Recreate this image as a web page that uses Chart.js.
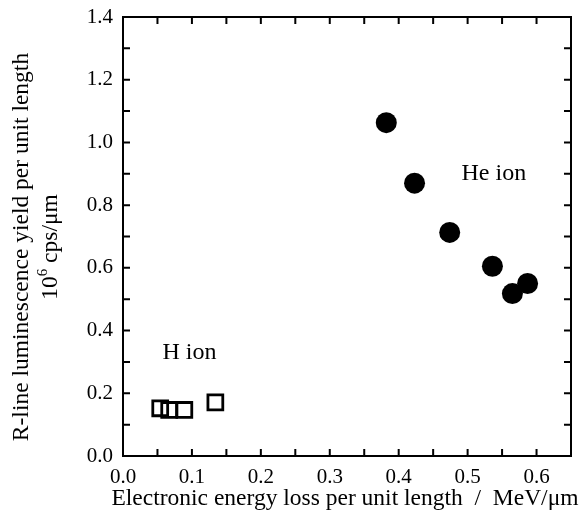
<!DOCTYPE html>
<html>
<head>
<meta charset="utf-8">
<script src="https://cdn.jsdelivr.net/npm/chart.js@4"></script>
<style>
  html, body { margin: 0; padding: 0; background: #fff; }
  #wrap { width: 579px; height: 518px; }
</style>
</head>
<body>
<div id="wrap"><canvas id="c" width="579" height="518"></canvas></div>
<script>
// He ion: filled circles
const heX = [0.382, 0.423, 0.474, 0.536, 0.565, 0.587];
const heY = [1.063, 0.870, 0.713, 0.605, 0.518, 0.550];
// H ion: open squares
const hX = [0.054, 0.067, 0.089, 0.134];
const hY = [0.152, 0.147, 0.147, 0.171];

const xTicks = [0.0, 0.1, 0.2, 0.3, 0.4, 0.5, 0.6];
const yTicks = [0.0, 0.2, 0.4, 0.6, 0.8, 1.0, 1.2, 1.4];

const FONT = '"Liberation Serif", "DejaVu Serif", serif';

// inward ticks on all four sides, plus axis labels drawn in serif
const frame = {
  id: 'frame',
  afterDraw(chart) {
    const { ctx, chartArea: a, scales: { x, y } } = chart;
    ctx.save();
    ctx.strokeStyle = '#000';
    ctx.lineWidth = 2;
    ctx.strokeRect(a.left, a.top, a.right - a.left, a.bottom - a.top);
    for (let v = 0; v <= 0.65001; v += 0.05) {
      const px = x.getPixelForValue(v);
      ctx.beginPath();
      ctx.moveTo(px, a.bottom); ctx.lineTo(px, a.bottom - 7);
      ctx.moveTo(px, a.top); ctx.lineTo(px, a.top + 7);
      ctx.stroke();
    }
    for (let v = 0; v <= 1.40001; v += 0.1) {
      const py = y.getPixelForValue(v);
      ctx.beginPath();
      ctx.moveTo(a.left, py); ctx.lineTo(a.left + 7, py);
      ctx.moveTo(a.right, py); ctx.lineTo(a.right - 7, py);
      ctx.stroke();
    }

    ctx.fillStyle = '#000';
    ctx.font = '21px ' + FONT;
    ctx.textBaseline = 'middle';
    ctx.textAlign = 'right';
    yTicks.forEach(v => ctx.fillText(v.toFixed(1), a.left - 10, y.getPixelForValue(v)));
    ctx.textAlign = 'center';
    xTicks.forEach(v => ctx.fillText(v.toFixed(1), x.getPixelForValue(v), a.bottom + 21));

    ctx.font = '23.5px ' + FONT;
    ctx.fillText('Electronic energy loss per unit length  /  MeV/\u03bcm', 345, 499);

    ctx.save();
    ctx.translate(22, 247);
    ctx.rotate(-Math.PI / 2);
    ctx.fillText('R-line luminescence yield per unit length', 0, 0);
    ctx.restore();

    ctx.save();
    ctx.translate(51, 247);
    ctx.rotate(-Math.PI / 2);
    const base = '10', sup = '6', rest = ' cps/\u03bcm';
    ctx.font = '23.5px ' + FONT;
    const wBase = ctx.measureText(base).width, wRest = ctx.measureText(rest).width;
    ctx.font = '15px ' + FONT;
    const wSup = ctx.measureText(sup).width;
    let sx = -(wBase + wSup + wRest) / 2;
    ctx.textAlign = 'left';
    ctx.font = '23.5px ' + FONT;
    ctx.fillText(base, sx, 0); sx += wBase;
    ctx.font = '15px ' + FONT;
    ctx.fillText(sup, sx, -8); sx += wSup;
    ctx.font = '23.5px ' + FONT;
    ctx.fillText(rest, sx, 0);
    ctx.restore();

    ctx.font = '24px ' + FONT;
    ctx.textAlign = 'center';
    ctx.fillText('He ion', x.getPixelForValue(0.538), y.getPixelForValue(0.90));
    ctx.fillText('H ion', x.getPixelForValue(0.0964), y.getPixelForValue(0.331));
    ctx.restore();
  }
};

new Chart(document.getElementById('c'), {
  type: 'scatter',
  data: {
    datasets: [
      {
        label: 'He ion',
        data: heX.map((v, i) => ({ x: v, y: heY[i] })),
        pointStyle: 'circle', pointRadius: 10.5, pointHoverRadius: 10.5,
        backgroundColor: '#000', borderWidth: 0
      },
      {
        label: 'H ion',
        data: hX.map((v, i) => ({ x: v, y: hY[i] })),
        pointStyle: 'rect', pointRadius: 10.5, pointHoverRadius: 10.5,
        backgroundColor: 'rgba(0,0,0,0)', borderColor: '#000', borderWidth: 2.8
      }
    ]
  },
  options: {
    responsive: false,
    animation: false,
    layout: { autoPadding: false, padding: { top: 17, right: 8, left: 0, bottom: 0 } },
    plugins: { legend: { display: false }, tooltip: { enabled: false } },
    scales: {
      x: {
        type: 'linear', min: 0, max: 0.65,
        grid: { display: false }, border: { display: false },
        ticks: { display: false },
        afterFit(s) { s.height = 62; }
      },
      y: {
        type: 'linear', min: 0, max: 1.4,
        grid: { display: false }, border: { display: false },
        ticks: { display: false },
        afterFit(s) { s.width = 123; }
      }
    }
  },
  plugins: [frame]
});
</script>
</body>
</html>
